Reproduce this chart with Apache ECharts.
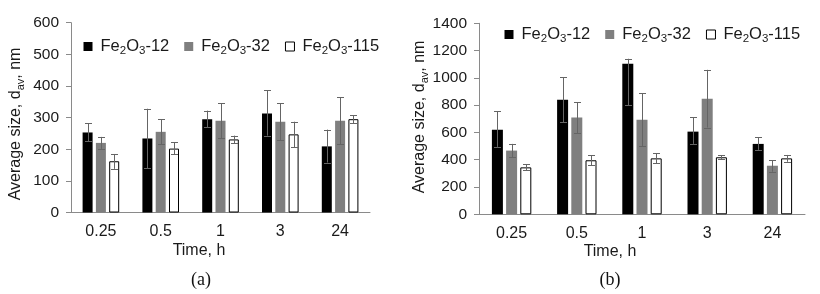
<!DOCTYPE html>
<html><head><meta charset="utf-8">
<script src="https://cdn.jsdelivr.net/npm/echarts@6/dist/echarts.min.js"></script>
<style>html,body{margin:0;padding:0;background:#fff}#c{width:820px;height:294px}</style>
</head><body><div id="c"></div>
<script>
// ---- data ----
const categories = ['0.25', '0.5', '1', '3', '24'];
const seriesNames = ['Fe2O3-12', 'Fe2O3-32', 'Fe2O3-115'];
// panel (a)
const a12 = [253, 234, 295, 313, 209];
const a12Lo = [225, 140, 270, 243, 158];
const a12Hi = [282, 328, 322, 386, 262];
const a32 = [220, 255, 290, 287, 290];
const a32Lo = [201, 215, 234, 229, 216];
const a32Hi = [239, 294, 345, 345, 364];
const a115 = [162, 202, 231, 247, 295];
const a115Lo = [138, 184, 219, 207, 282];
const a115Hi = [185, 222, 243, 287, 308];
// panel (b)
const b12 = [619, 840, 1103, 606, 516];
const b12Lo = [494, 676, 801, 516, 472];
const b12Hi = [754, 1004, 1140, 710, 565];
const b32 = [467, 710, 693, 847, 356];
const b32Lo = [418, 594, 501, 636, 312];
const b32Hi = [516, 823, 889, 1059, 398];
const b115 = [344, 396, 410, 418, 410];
const b115Lo = [322, 360, 373, 404, 385];
const b115Hi = [366, 432, 447, 432, 435];
// axis ticks
const yMaxA = 600, yStepA = 100;
const yMaxB = 1400, yStepB = 200;
const xTitle = 'Time, h';
const panelLabels = ['(a)', '(b)'];

// ---- styles ----
const FONT = 'Liberation Sans, Arial, sans-serif';
const TXT = '#1a1a1a';
const AX = '#8a8a8a';
const ERR = '#656565';
const fills = ['#000000', '#7f7f7f', '#ffffff'];
const borders = ['#000000', '#7f7f7f', '#000000'];
const barW = [10, 11];
const barGapPx = [3.3, 3.2];

const rich = {
  n: {fontFamily: FONT, fontSize: 16.5, color: TXT, lineHeight: 20},
  s: {fontFamily: FONT, fontSize: 11.5, color: TXT, lineHeight: 20, verticalAlign: 'bottom'}
};
const richY = {
  n: {fontFamily: FONT, fontSize: 16, color: TXT, lineHeight: 20},
  s: {fontFamily: FONT, fontSize: 11, color: TXT, lineHeight: 20, verticalAlign: 'bottom'}
};
function richName(name) {
  return name.replace(/^Fe2O3(.*)$/, '{n|Fe}{s|2}{n|O}{s|3}{n|$1}');
}
const yTitle = '{n|Average size, d}{s|av}{n|, nm}';

const grids = [
  {left: 71, top: 22.7, width: 299, height: 189.8},
  {left: 479, top: 23.3, width: 326, height: 191}
];

function yAxis(gi, max, step) {
  return {
    type: 'value', gridIndex: gi, min: 0, max: max, interval: step,
    splitLine: {show: false},
    axisLine: {show: true, lineStyle: {color: AX, width: 1}},
    axisTick: {show: true, length: 5, lineStyle: {color: AX}},
    axisLabel: {fontFamily: FONT, fontSize: 15.5, color: TXT, margin: 12,
      formatter: v => String(v)}
  };
}
function xAxis(gi) {
  return {
    type: 'category', gridIndex: gi, data: categories,
    axisLine: {show: true, lineStyle: {color: AX, width: 1}},
    axisTick: {show: false},
    axisLabel: {fontFamily: FONT, fontSize: 16, color: TXT, margin: 11}
  };
}

const panels = [
  {vals: [a12, a32, a115], lo: [a12Lo, a32Lo, a115Lo], hi: [a12Hi, a32Hi, a115Hi]},
  {vals: [b12, b32, b115], lo: [b12Lo, b32Lo, b115Lo], hi: [b12Hi, b32Hi, b115Hi]}
];

const series = [];
panels.forEach((p, gi) => {
  p.vals.forEach((v, k) => {
    series.push({
      type: 'bar', name: seriesNames[k], xAxisIndex: gi, yAxisIndex: gi,
      data: v, barWidth: barW[gi], barGap: (barGapPx[gi] / barW[gi] * 100) + '%',
      itemStyle: {color: fills[k], borderColor: borders[k], borderWidth: k === 2 ? 1 : 0},
      emphasis: {disabled: true}, z: 2
    });
  });
  p.vals.forEach((v, k) => {
    const off = (k - 1) * (barW[gi] + barGapPx[gi]);
    series.push({
      type: 'custom', name: 'err' + gi + k, xAxisIndex: gi, yAxisIndex: gi, z: 5,
      data: categories.map((c, i) => [i, p.lo[k][i], p.hi[k][i]]),
      renderItem: function (params, api) {
        const pLo = api.coord([api.value(0), api.value(1)]);
        const pHi = api.coord([api.value(0), api.value(2)]);
        const x = Math.round(pLo[0] + off) + 0.5;
        const cw = 3.5;
        const st = {stroke: ERR, lineWidth: 1};
        return {type: 'group', children: [
          {type: 'line', shape: {x1: x, y1: pLo[1], x2: x, y2: pHi[1]}, style: st},
          {type: 'line', shape: {x1: x - cw, y1: Math.round(pLo[1]) + 0.5, x2: x + cw, y2: Math.round(pLo[1]) + 0.5}, style: st},
          {type: 'line', shape: {x1: x - cw, y1: Math.round(pHi[1]) + 0.5, x2: x + cw, y2: Math.round(pHi[1]) + 0.5}, style: st}
        ]};
      },
      silent: true
    });
  });
});

function legend(left, top) {
  return {
    left: left, top: top, padding: 0, orient: 'horizontal', itemWidth: 9, itemHeight: 9, itemGap: 15,
    selectedMode: false,
    data: seriesNames.map((n, k) => ({name: n, icon: 'rect',
      itemStyle: {color: fills[k], borderColor: borders[k], borderWidth: k === 2 ? 1 : 0}})),
    formatter: richName,
    textStyle: {fontFamily: FONT, fontSize: 16, color: TXT, padding: [0, 0, 0, 3], rich: rich}
  };
}

function gtext(x, y, text, extra) {
  return Object.assign({type: 'text', x: x, y: y, silent: true,
    style: Object.assign({text: text, textAlign: 'center', textVerticalAlign: 'middle',
      fontFamily: FONT, fontSize: 16, fill: TXT}, extra || {})});
}

const option = {
  animation: false,
  backgroundColor: '#ffffff',
  grid: grids,
  xAxis: [xAxis(0), xAxis(1)],
  yAxis: [yAxis(0, yMaxA, yStepA), yAxis(1, yMaxB, yStepB)],
  legend: [legend(83.5, 38), legend(504.5, 26)],
  series: series,
  graphic: [
    Object.assign(gtext(16, 124, yTitle, {rich: richY}), {rotation: Math.PI / 2}),
    Object.assign(gtext(420, 117, yTitle, {rich: richY}), {rotation: Math.PI / 2}),
    gtext(199, 251, xTitle),
    gtext(610, 252, xTitle),
    gtext(201, 280, panelLabels[0], {fontFamily: 'Liberation Serif, Times New Roman, serif', fontSize: 18, fill: '#111'}),
    gtext(610, 280, panelLabels[1], {fontFamily: 'Liberation Serif, Times New Roman, serif', fontSize: 18, fill: '#111'})
  ]
};
const chart = echarts.init(document.getElementById('c'), null, {renderer: 'canvas'});
chart.setOption(option);
</script></body></html>
